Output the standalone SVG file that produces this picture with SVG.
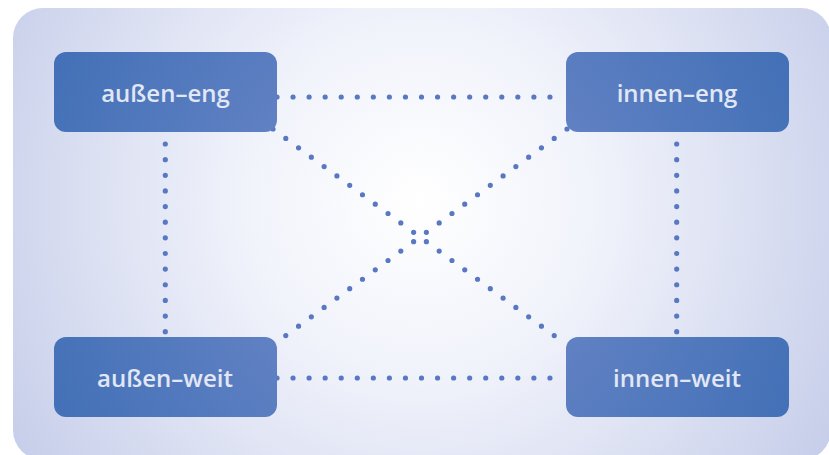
<svg xmlns="http://www.w3.org/2000/svg" width="829" height="455" viewBox="0 0 829 455">
  <defs>
    <radialGradient id="bg" gradientUnits="userSpaceOnUse" cx="420" cy="200" r="500">
      <stop offset="0" stop-color="#ffffff"/>
      <stop offset="0.35" stop-color="#f1f3fb"/>
      <stop offset="1" stop-color="#c3cbe8"/>
    </radialGradient>
    <radialGradient id="nodeFill" gradientUnits="userSpaceOnUse" cx="421" cy="237" r="420">
      <stop offset="0.4" stop-color="#6282c4"/>
      <stop offset="1" stop-color="#416fb6"/>
    </radialGradient>
  </defs>
  <style>
    .node rect { fill: url(#nodeFill); }
    .node text { font-family: "Open Sans", "Liberation Sans", sans-serif; font-size: 24px; font-weight: 600; fill: #e2e7f5; text-anchor: middle; word-spacing: 0; }
    .link { fill: none; stroke: #5878c2; stroke-width: 5.2; stroke-linecap: round; }
  </style>

  <!-- backdrop panel -->
  <rect x="13" y="8" width="818" height="452" rx="30" fill="url(#bg)"/>

  <!-- dotted connectors, drawn under the nodes -->
  <g id="connectors">
    <line class="link" x1="277" y1="97" x2="566" y2="97" stroke-dasharray="0 16.056"/>
    <line class="link" x1="277" y1="378" x2="566" y2="378" stroke-dasharray="0 16.056"/>
    <line class="link" x1="165.3" y1="144" x2="165.3" y2="331.7" stroke-dasharray="0 15.64"/>
    <line class="link" x1="676.7" y1="144" x2="676.7" y2="331.7" stroke-dasharray="0 15.64"/>
    <line class="link" x1="273" y1="129" x2="567" y2="345" stroke-dasharray="0 15.862"/>
    <line class="link" x1="567" y1="129" x2="273" y2="345" stroke-dasharray="0 15.862"/>
  </g>

  <g id="aussen-eng" class="node">
    <rect x="54" y="52" width="223" height="80" rx="12"/>
    <text x="165.5" y="102">außen–eng</text>
  </g>
  <g id="innen-eng" class="node">
    <rect x="566" y="52" width="223" height="80" rx="12"/>
    <text x="677" y="102">innen–eng</text>
  </g>
  <g id="aussen-weit" class="node">
    <rect x="54" y="337" width="223" height="80" rx="12"/>
    <text x="165" y="386.5">außen–weit</text>
  </g>
  <g id="innen-weit" class="node">
    <rect x="566" y="337" width="223" height="80" rx="12"/>
    <text x="677" y="386.5">innen–weit</text>
  </g>
</svg>
